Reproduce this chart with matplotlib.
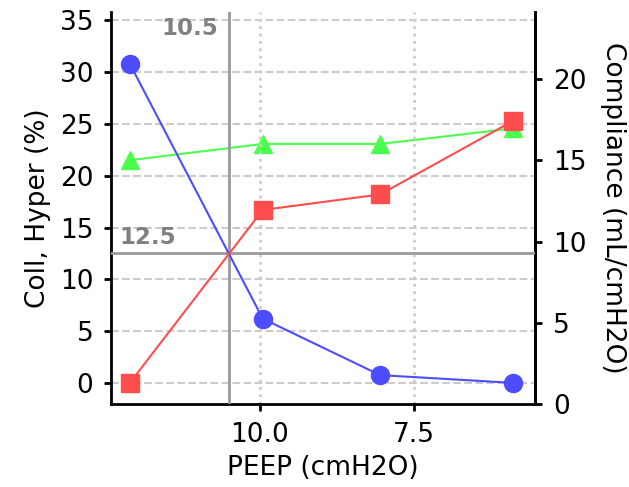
import numpy as np
import matplotlib
matplotlib.use("Agg")
import matplotlib.pyplot as plt

# data
peep = [12.1, 9.95, 8.05, 5.9]
coll = [30.8, 6.2, 0.75, 0.0]
hyper = [0.0, 16.7, 18.2, 25.3]
compliance = [15.0, 16.0, 16.0, 16.95]
x_mark = 10.5
y_mark = 12.5

plt.rcParams['font.family'] = 'DejaVu Sans'
plt.rcParams['font.size'] = 19

fig = plt.figure(figsize=(6.29, 4.87), dpi=100)
ax1 = fig.add_axes([0.177, 0.17, 0.674, 0.805])
ax2 = ax1.twinx()
ax1.set_zorder(ax2.get_zorder() + 1)
ax1.patch.set_visible(False)

ax1.plot(peep, coll, color='#4d4dff', marker='o', ms=13, lw=1.5, zorder=4)
ax1.plot(peep, hyper, color='#ff4d4d', marker='s', ms=13, lw=1.5, zorder=4)
ax2.plot(peep, compliance, color='#4dff4d', marker='^', ms=13, lw=1.5)

ax1.axvline(x_mark, color='#999999', lw=2, zorder=3)
ax1.axhline(y_mark, color='#999999', lw=2, zorder=3)
ax1.text(x_mark + 0.17, 35.3, '10.5', color='#808080', fontweight='bold',
         fontsize=16.5, ha='right', va='top')
ax1.text(12.27, y_mark + 0.4, '12.5', color='#808080', fontweight='bold',
         fontsize=16.5, ha='left', va='bottom')

ax1.set_xlim(12.4, 5.54)
ax1.set_ylim(-2.06, 35.8)
ax2.set_ylim(0, 24.1)
ax1.set_xticks([10.0, 7.5])
ax1.set_yticks(np.arange(0, 36, 5))
ax2.set_yticks([0, 5, 10, 15, 20])

ax1.grid(axis='y', linestyle='--', color='#cccccc', lw=1.5)
ax1.grid(axis='x', linestyle=':', color='#cccccc', lw=2)

for ax in (ax1, ax2):
    ax.spines['top'].set_visible(False)
    for s in ax.spines.values():
        s.set_linewidth(2)
    ax.tick_params(width=2, length=5, pad=8)
ax2.spines['left'].set_visible(False)
ax2.spines['bottom'].set_visible(False)

ax1.set_xlabel('PEEP (cmH2O)', labelpad=5)
ax1.set_ylabel('Coll, Hyper (%)', labelpad=6)
ax2.set_ylabel('Compliance (mL/cmH2O)', rotation=270, labelpad=28)

fig.savefig('out.png', dpi=100)
